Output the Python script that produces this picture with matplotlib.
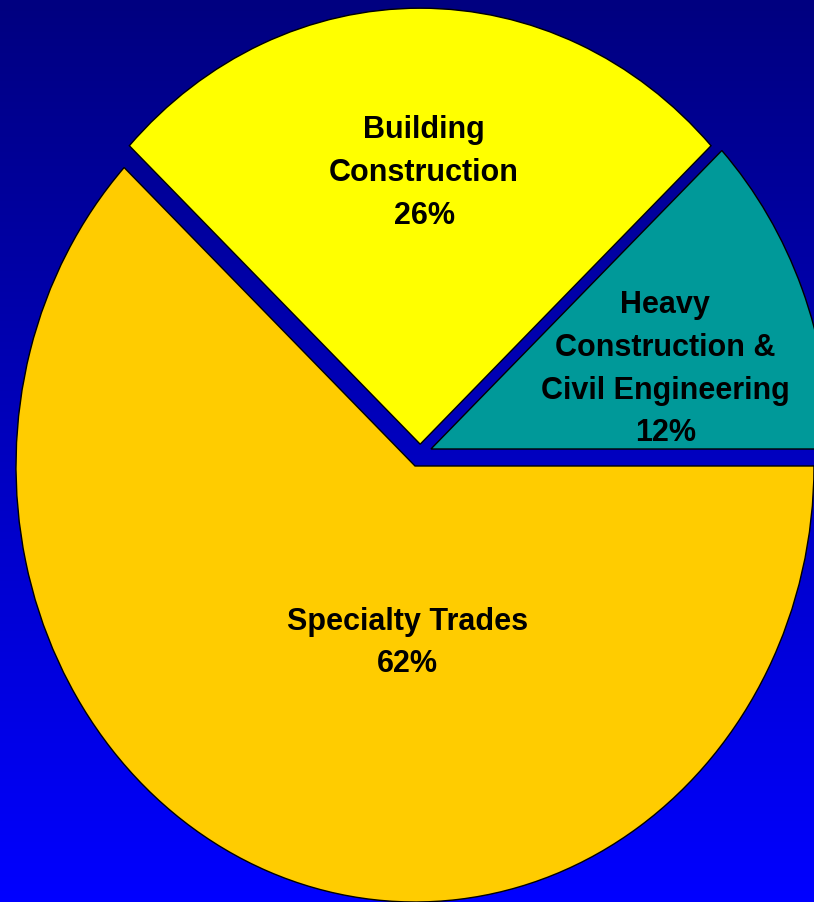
import numpy as np
import matplotlib.pyplot as plt
from matplotlib.colors import LinearSegmentedColormap

# Data
categories = ["Heavy\nConstruction &\nCivil Engineering", "Building\nConstruction", "Specialty Trades"]
shares = [12, 26, 62]
colors = ["#009999", "#FFFF00", "#FFCC00"]

# Wedge shifts (data units) and label anchors
shifts = [(0.040, 0.039), (0.013, 0.050), (0.0, 0.0)]
label_pos = [(0.627, 0.222), (0.023, 0.672), (-0.018, -0.406)]

fig = plt.figure(figsize=(8.14, 9.02), dpi=100)

# background gradient
bg = fig.add_axes([0, 0, 1, 1])
grad = np.linspace(0, 1, 256).reshape(-1, 1)
cmap = LinearSegmentedColormap.from_list("bg", ["#000080", "#0000FF"])
bg.imshow(grad, aspect="auto", cmap=cmap, extent=[0, 1, 1, 0])
bg.axis("off")

ax = fig.add_axes([0, 0, 1, 1])
ax.patch.set_alpha(0)
wedges, _ = ax.pie(shares, colors=colors, startangle=0, counterclock=True,
                   wedgeprops=dict(edgecolor="black", linewidth=1.0))
for w, (dx, dy) in zip(wedges, shifts):
    w.set_center((dx, dy))

for name, val, (x, y) in zip(categories, shares, label_pos):
    ax.text(x, y, f"{name}\n{val}%", ha="center", va="center",
            fontsize=22, fontweight="bold", family="Liberation Sans",
            linespacing=1.55, color="black")

ax.set_aspect("auto")
ax.set_xlim(-1.0401, 1.0)
ax.set_ylim(-1.0, 1.0688)
ax.axis("off")

fig.savefig("out.png", dpi=100)
